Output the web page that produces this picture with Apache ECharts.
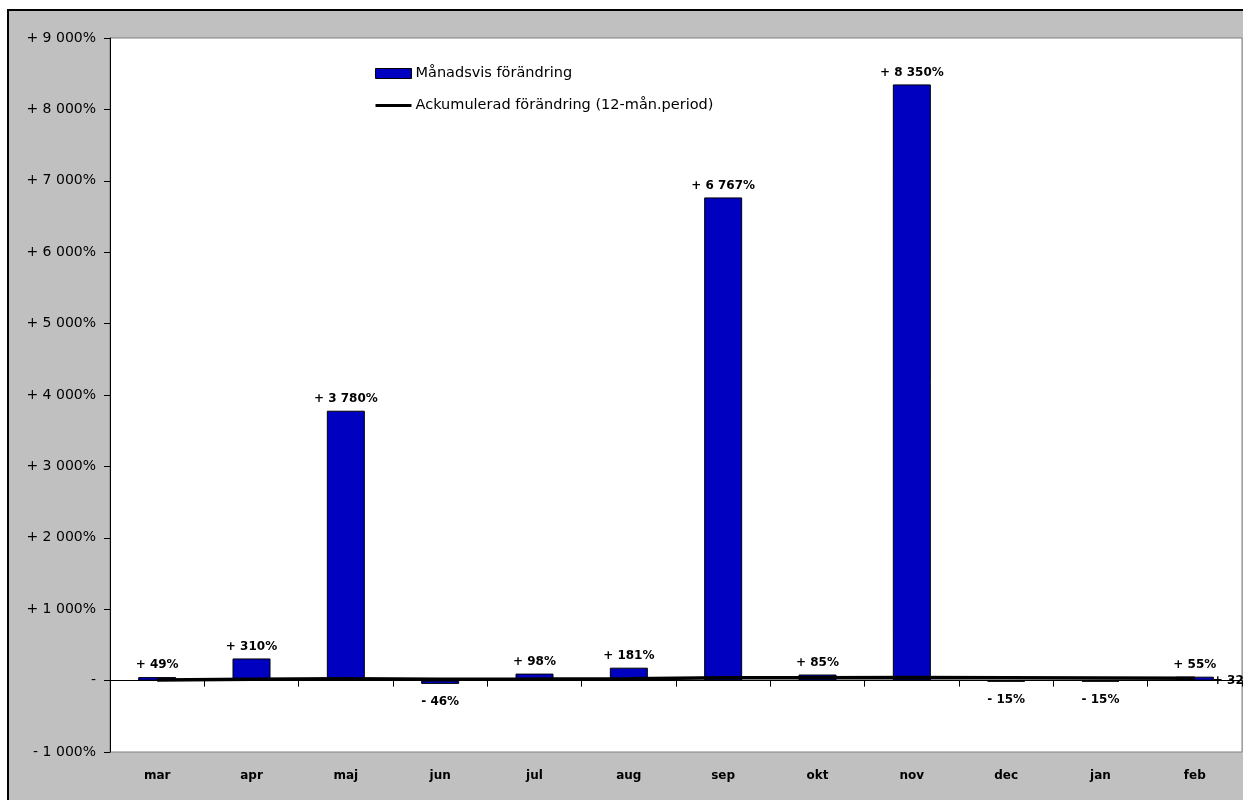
<!DOCTYPE html>
<html>
<head>
<meta charset="utf-8">
<script src="https://cdn.jsdelivr.net/npm/echarts@6/dist/echarts.min.js"></script>
<style>
html,body{margin:0;padding:0;background:#fff;overflow:hidden;width:1243px;height:800px;}
#bg{position:absolute;left:7px;top:9px;width:1300px;height:900px;background:#c0c0c0;border:2px solid #000;}
#chart{position:absolute;left:0;top:0;width:1243px;height:800px;}
</style>
</head>
<body>
<div id="bg"></div>
<div id="chart"></div>
<script>
const categories = ['mar','apr','maj','jun','jul','aug','sep','okt','nov','dec','jan','feb'];
const monthlyChange = [49, 310, 3780, -46, 98, 181, 6767, 85, 8350, -15, -15, 55];
const accumulatedChange = [10, 20, 25, 20, 22, 25, 40, 40, 45, 40, 35, 32];
const yTicks = { min: -1000, max: 9000, interval: 1000 };
const seriesNames = ['Månadsvis förändring', 'Ackumulerad förändring (12-mån.period)'];

function fmtNum(v) {
  const a = Math.abs(Math.round(v));
  return String(a).replace(/\B(?=(\d{3})+(?!\d))/g, ' ');
}
function fmtPct(v) {
  if (v === 0) return '-';
  return (v > 0 ? '+ ' : '- ') + fmtNum(v) + '%';
}

const chart = echarts.init(document.getElementById('chart'));
const font = 'DejaVu Sans, Liberation Sans, Arial, sans-serif';

chart.setOption({
  backgroundColor: 'transparent',
  animation: false,
  textStyle: { fontFamily: font },
  grid: {
    left: 110, right: 1, top: 38, bottom: 48,
    show: true, backgroundColor: '#fff', borderColor: '#808080', borderWidth: 1
  },
  legend: {
    orient: 'vertical',
    left: 375, top: 66, padding: 0,
    itemWidth: 36, itemHeight: 10, itemGap: 17,
    textStyle: { fontSize: 14.5, color: '#000', fontFamily: font, padding: [0, 0, 0, -1] },
    data: [
      { name: seriesNames[0], icon: 'rect', itemStyle: { color: '#0000c0', borderColor: '#000', borderWidth: 1 } },
      { name: seriesNames[1], icon: 'path://M0,0 M0,10 M0,3.5 L36,3.5 L36,6.5 L0,6.5 Z', itemStyle: { color: '#000', borderWidth: 0 } }
    ]
  },
  xAxis: [
    {
      type: 'category', data: categories, position: 'bottom',
      axisLine: { show: false, onZero: false }, axisTick: { show: false },
      axisLabel: { fontSize: 12, fontWeight: 'bold', color: '#000', margin: 18, fontFamily: font }
    },
    {
      type: 'category', data: categories, position: 'bottom',
      axisLine: { show: true, onZero: true, lineStyle: { color: '#000', width: 1 } },
      axisTick: { show: true, length: 6, lineStyle: { color: '#000' } },
      axisLabel: { show: false }
    }
  ],
  yAxis: {
    type: 'value', min: yTicks.min, max: yTicks.max, interval: yTicks.interval,
    axisLine: { show: true, lineStyle: { color: '#000', width: 1 } },
    axisTick: { show: true, length: 6, lineStyle: { color: '#000' } },
    splitLine: { show: false },
    axisLabel: { formatter: fmtPct, fontSize: 14, color: '#000', margin: 14, fontFamily: font }
  },
  series: [
    {
      name: seriesNames[0], type: 'bar', xAxisIndex: 0, barWidth: 38,
      itemStyle: { color: '#0000c0', borderColor: '#000', borderWidth: 1 },
      data: monthlyChange.map(v => ({
        value: v,
        label: { position: v < 0 ? 'bottom' : 'top', distance: v < 0 ? 12 : 6 }
      })),
      label: {
        show: true, fontSize: 12, fontWeight: 'bold', color: '#000', fontFamily: font,
        formatter: p => fmtPct(p.value)
      },
      z: 2
    },
    {
      name: seriesNames[1], type: 'line', xAxisIndex: 0,
      data: accumulatedChange,
      symbol: 'none',
      lineStyle: { color: '#000', width: 3.5 },
      itemStyle: { color: '#000' },
      endLabel: {
        show: true, distance: 18, fontSize: 12, fontWeight: 'bold', color: '#000', fontFamily: font,
        offset: [0, 3],
        formatter: p => fmtPct(p.value)
      },
      z: 5
    }
  ]
});
</script>
</body>
</html>
